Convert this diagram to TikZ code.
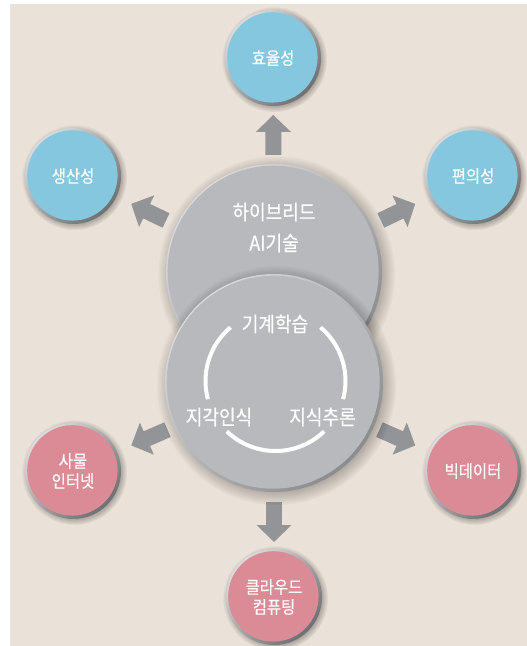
\documentclass[tikz,border=0pt]{standalone}
\usepackage{fontspec}
\newfontfamily\kr[FakeStretch=0.88,FakeBold=0.3]{Noto Sans CJK KR}
\usetikzlibrary{arrows.meta,calc,shadows}
\definecolor{bgc}{HTML}{EAE2D8}
\definecolor{cblue}{HTML}{85C7DF}
\definecolor{cpink}{HTML}{DB8B95}
\definecolor{cgray}{HTML}{B8B9BC}
\definecolor{arrowc}{HTML}{929497}
\definecolor{rimlight}{HTML}{DCDCDE}
\definecolor{rimdark}{HTML}{6E6F72}
\begin{document}
\begin{tikzpicture}[x=1pt,y=1pt,
  bubble/.style={circle, minimum size=96pt, inner sep=0pt, text=white, align=center,
    font=\kr\fontsize{17.5}{20}\selectfont,
    top color=rimlight, bottom color=rimdark, shading angle=45,
    circular drop shadow={shadow xshift=1.2pt, shadow yshift=-1.2pt, opacity=0.3, fill=black},
    path picture={\fill[#1] ([xshift=-0.6pt,yshift=0.6pt]path picture bounding box.center) circle (45.2pt);}},
  bigc/.style={circle, minimum size=#1, inner sep=0pt,
    top color=rimlight, bottom color=rimdark!80, shading angle=45,
    circular drop shadow={shadow xshift=2pt, shadow yshift=-2pt, opacity=0.3, fill=black}},
  bigfill/.style={path picture={\fill[cgray] ([xshift=-0.8pt,yshift=0.8pt]path picture bounding box.center) circle (#1);}},
  bigtext/.style={text=white, font=\kr\fontsize{20.5}{31}\selectfont, align=center, inner sep=0pt},
  blockarrow/.style={draw=arrowc, line width=16pt, -{Triangle[width=34pt,length=17pt]}},
  ring/.style={draw=white, line width=4pt}
]
\useasboundingbox (0,0) rectangle (527,646);
\fill[bgc] (10,0) rectangle (527,642);

% node positions
\coordinate (big1) at (274,374);
\coordinate (big2) at (274,263);
\coordinate (ac) at (275.5,265);

\node[bubble=cblue] (eff) at (273,588) {효율성};
\node[bubble=cblue] (prod) at (73,470) {생산성};
\node[bubble=cblue] (conv) at (473,470) {편의성};
\node[bubble=cpink] (iot) at (73,175) {사물\\인터넷};
\node[bubble=cpink] (bigd) at (473,175) {빅데이터};
\node[bubble=cpink] (cloud) at (274,49) {클라우드\\컴퓨팅};

% arrows
\draw[blockarrow] ($(big1)!0.547!(eff)$) -- ($(big1)!0.734!(eff)$);
\draw[blockarrow] ($(big1)!0.537!(prod)$) -- ($(big1)!0.71!(prod)$);
\draw[blockarrow] ($(big1)!0.537!(conv)$) -- ($(big1)!0.71!(conv)$);
\draw[blockarrow] ($(big2)!0.53!(iot)$) -- ($(big2)!0.71!(iot)$);
\draw[blockarrow] ($(big2)!0.53!(bigd)$) -- ($(big2)!0.71!(bigd)$);
\draw[blockarrow] ($(big2)!0.556!(cloud)$) -- ($(big2)!0.743!(cloud)$);

% big circles
\node[bigc=216pt, bigfill=105.5pt] (c1) at (big1) {};
\node[bigc=218pt, bigfill=106.5pt] (c2) at (big2) {};

\node[bigtext] (t1) at (274,418.5) {하이브리드\\AI기술};

% ring
\draw[ring] ($(ac)+(130:70)$) arc[start angle=130, end angle=195, radius=70];
\draw[ring] ($(ac)+(50:70)$) arc[start angle=50, end angle=-15, radius=70];
\draw[ring] ($(ac)+(-134:70)$) arc[start angle=-134, end angle=-46, radius=70];

\node[bigtext] (ml) at (275,322) {기계학습};
\node[bigtext] (pc) at (219,229) {지각인식};
\node[bigtext] (kr) at (322.5,229) {지식추론};
\end{tikzpicture}
\end{document}
